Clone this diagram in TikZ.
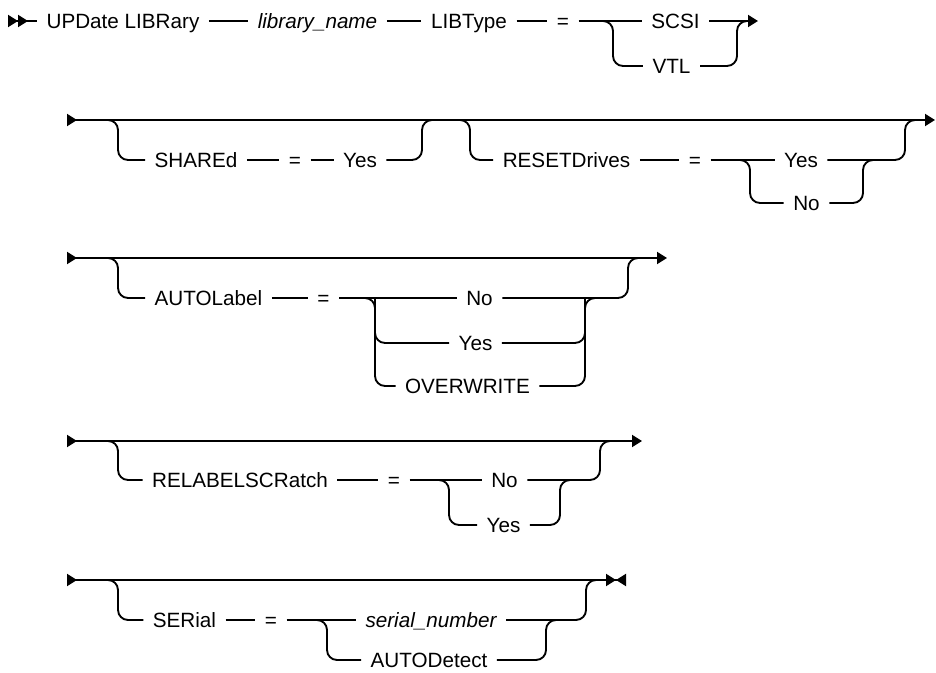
\documentclass[tikz,border=0pt]{standalone}
\usepackage{fontspec}
\setmainfont{Liberation Sans}
\usetikzlibrary{arrows.meta}

\begin{document}
\begin{tikzpicture}[
  x=0.75pt,y=-0.75pt,
  kw/.style={font=\fontsize{15.5}{18}\selectfont,inner xsep=7pt,inner ysep=0pt,
    text height=11.1pt,text depth=0pt},
  var/.style={kw,font=\fontsize{15.5}{18}\selectfont\itshape},
  conn/.style={line width=1.4pt,rounded corners=7.5pt},
  Syn/.tip={Triangle[length=7.5pt,width=9pt,sep=0pt]},
  row/.style={conn,{Syn[reversed]}-{Syn[]}}
]
  \useasboundingbox (0,0) rectangle (936,673);

  % Row 1: command and library type
  \node[kw] (upd) at (123,21) {UPDate LIBRary};
  \node[var] (libname) at (317.5,21) {library\_name};
  \node[kw] (libtype) at (469,21) {LIBType};
  \node[kw] (eq1) at (563,21) {=};
  \node[kw] (scsi) at (675.5,21) {SCSI};
  \node[kw] (vtl) at (671.5,66) {VTL};
  \coordinate (s1) at (8,21);
  \coordinate (e1) at (758,21);
  \coordinate (j1l) at (613,21);
  \coordinate (j1r) at (737,21);
  \draw[conn,{Syn[reversed]Syn[reversed]}-] (s1) -- (upd);
  \draw[conn] (upd) -- (libname);
  \draw[conn] (libname) -- (libtype);
  \draw[conn] (libtype) -- (eq1);
  \draw[conn] (eq1) -- (scsi);
  \draw[conn,-{Syn[]}] (scsi) -- (e1);
  \draw[conn] (j1l) ++(-10,0) -- (j1l) |- (vtl);
  \draw[conn] (vtl) -| (j1r) -- ++(10,0);

  % Row 2: SHAREd and RESETDrives
  \coordinate (s2) at (67,120);
  \coordinate (e2) at (935,120);
  \draw[row] (s2) -- (e2);
  \node[kw] (shared) at (196,160) {SHAREd};
  \node[kw] (eq2) at (295,160) {=};
  \node[kw] (yes2) at (360,160) {Yes};
  \coordinate (j2l) at (118,120);
  \coordinate (j2r) at (422,120);
  \draw[conn] (j2l) ++(-10,0) -- (j2l) |- (shared);
  \draw[conn] (shared) -- (eq2);
  \draw[conn] (eq2) -- (yes2);
  \draw[conn] (yes2) -| (j2r) -- ++(10,0);
  \node[kw] (reset) at (566.5,160) {RESETDrives};
  \node[kw] (eq3) at (695,160) {=};
  \node[kw] (yes3) at (801,160) {Yes};
  \node[kw] (no3) at (806.5,203) {No};
  \coordinate (k2l) at (470,120);
  \coordinate (k2m) at (750,160);
  \coordinate (k2n) at (863,160);
  \coordinate (k2r) at (905,120);
  \draw[conn] (k2l) ++(-10,0) -- (k2l) |- (reset);
  \draw[conn] (reset) -- (eq3);
  \draw[conn] (eq3) -- (yes3);
  \draw[conn] (k2m) ++(-10,0) -- (k2m) |- (no3);
  \draw[conn] (no3) -| (k2n) -- ++(10,0);
  \draw[conn] (yes3) -| (k2r) -- ++(10,0);

  % Row 3: AUTOLabel
  \coordinate (s3) at (67,258);
  \coordinate (e3) at (667,258);
  \draw[row] (s3) -- (e3);
  \node[kw] (autol) at (208.5,298) {AUTOLabel};
  \node[kw] (eq4) at (323.5,298) {=};
  \node[kw] (no4) at (479.5,298) {No};
  \node[kw] (yes4) at (475.5,343) {Yes};
  \node[kw] (over) at (467.5,386) {OVERWRITE};
  \coordinate (j3l) at (118,258);
  \coordinate (j3m) at (375,298);
  \coordinate (j3n) at (585,298);
  \coordinate (j3r) at (628,258);
  \draw[conn] (j3l) ++(-10,0) -- (j3l) |- (autol);
  \draw[conn] (autol) -- (eq4);
  \draw[conn] (eq4) -- (no4);
  \draw[conn] (j3m) ++(-10,0) -- (j3m) |- (yes4);
  \draw[conn] (j3m) |- (over);
  \draw[conn] (yes4) -| (j3n) -- ++(10,0);
  \draw[conn] (over) -| (j3n);
  \draw[conn] (no4) -| (j3r) -- ++(10,0);

  % Row 4: RELABELSCRatch
  \coordinate (s4) at (67,441);
  \coordinate (e4) at (642,441);
  \draw[row] (s4) -- (e4);
  \node[kw] (relab) at (240,480) {RELABELSCRatch};
  \node[kw] (eq5) at (394,480) {=};
  \node[kw] (no5) at (504.5,480) {No};
  \node[kw] (yes5) at (503.5,525) {Yes};
  \coordinate (j4l) at (118,441);
  \coordinate (j4m) at (449,480);
  \coordinate (j4n) at (560,480);
  \coordinate (j4r) at (600,441);
  \draw[conn] (j4l) ++(-10,0) -- (j4l) |- (relab);
  \draw[conn] (relab) -- (eq5);
  \draw[conn] (eq5) -- (no5);
  \draw[conn] (j4m) ++(-10,0) -- (j4m) |- (yes5);
  \draw[conn] (yes5) -| (j4n) -- ++(10,0);
  \draw[conn] (no5) -| (j4r) -- ++(10,0);

  % Row 5: SERial
  \coordinate (s5) at (67,580);
  \coordinate (e5) at (626,580);
  \draw[conn,{Syn[reversed]}-{Syn[]Syn[reversed]}] (s5) -- (e5);
  \node[kw] (serial) at (184.5,620) {SERial};
  \node[kw] (eq6) at (271,620) {=};
  \node[var] (sn) at (431,620) {serial\_number};
  \node[kw] (autod) at (429,660) {AUTODetect};
  \coordinate (j5l) at (118,580);
  \coordinate (j5m) at (327,620);
  \coordinate (j5n) at (546,620);
  \coordinate (j5r) at (586,580);
  \draw[conn] (j5l) ++(-10,0) -- (j5l) |- (serial);
  \draw[conn] (serial) -- (eq6);
  \draw[conn] (eq6) -- (sn);
  \draw[conn] (j5m) ++(-10,0) -- (j5m) |- (autod);
  \draw[conn] (autod) -| (j5n) -- ++(10,0);
  \draw[conn] (sn) -| (j5r) -- ++(10,0);
\end{tikzpicture}
\end{document}
